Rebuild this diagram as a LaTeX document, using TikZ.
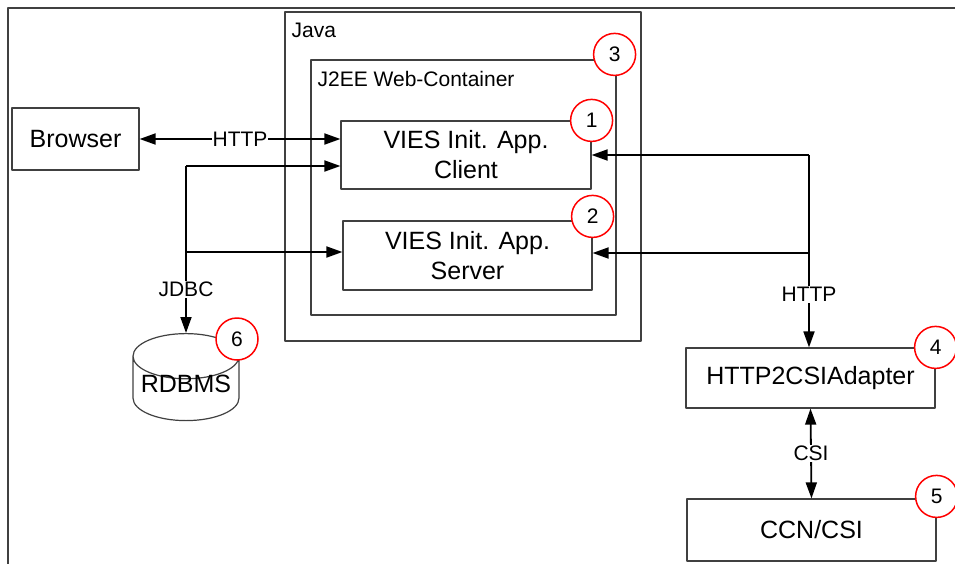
\documentclass[tikz,border=0pt]{standalone}
\usepackage{fontspec}
\setmainfont{Liberation Sans}
\usetikzlibrary{arrows.meta,shapes.geometric}
\begin{document}
\begin{tikzpicture}[x=1pt,y=-1pt,line join=round,>={Triangle[length=16pt,width=11pt]},
	box/.style={draw=black!75,line width=1.2pt,inner sep=0pt,align=center,font=\fontsize{25}{30}\selectfont},
	frame/.style={draw=black!75,line width=1.2pt,inner sep=0pt},
	num/.style={circle,draw=red,line width=1.5pt,fill=white,minimum size=42pt,inner sep=0pt,font=\fontsize{21}{25}\selectfont},
	lbl/.style={fill=white,inner sep=1pt,font=\fontsize{21}{25}\selectfont},
	conn/.style={line width=1.8pt}]
	\useasboundingbox (0,0) rectangle (955,563);
	\draw[black!75,line width=1.2pt] (8,570)|-(960,8);
	\node[frame,minimum width=356pt,minimum height=329pt] (java) at (463,176.5) {};
	\node[anchor=north west,inner sep=0pt,xshift=7pt,yshift=-11pt,font=\fontsize{21}{25}\selectfont] (javalbl) at (java.north west) {Java};
	\node[frame,minimum width=305pt,minimum height=255pt] (j2ee) at (463.5,187.5) {};
	\node[anchor=north west,inner sep=0pt,xshift=7pt,yshift=-12pt,font=\fontsize{21}{25}\selectfont] (j2eelbl) at (j2ee.north west) {J2EE Web-Container};
	\node[box,minimum width=127pt,minimum height=62pt] (browser) at (75.5,139) {Browser};
	\node[box,minimum width=250pt,minimum height=68pt] (client) at (466,155) {VIES Init. App.\\Client};
	\node[box,minimum width=249pt,minimum height=69pt] (server) at (467.5,255.5) {VIES Init. App.\\Server};
	\node[box,minimum width=249pt,minimum height=60pt] (adapter) at (810.5,378) {HTTP2CSIAdapter};
	\node[box,minimum width=249pt,minimum height=62pt] (ccn) at (811.5,530) {CCN/CSI};
	\node[box,cylinder,shape border rotate=90,aspect=0.5,minimum width=106pt,minimum height=87pt,anchor=north] (rdbms) at (186,333) {\phantom{RDBMS}};
	\node[font=\fontsize{25}{30}\selectfont,inner sep=0pt] (rdbmslbl) at (186,384) {RDBMS};
	\node[num] (n3) at ([xshift=-2pt,yshift=5pt]j2ee.north east) {3};
	\node[num] (n1) at (client.north east) {1};
	\node[num] (n2) at ([yshift=4pt]server.north east) {2};
	\node[num] (n4) at (adapter.north east) {4};
	\node[num] (n5) at ([yshift=2pt]ccn.north east) {5};
	\node[num] (n6) at ([xshift=51pt,yshift=-6pt]rdbms.north) {6};
	\coordinate (jc) at (186,166);\coordinate (js) at (186,252);
	\coordinate (hc) at (809,155);\coordinate (hs) at (809,253);
	\draw[conn,<->] (browser.east)--(browser.east-|client.west) node[midway,lbl]{HTTP};
	\draw[conn,->] (jc)--(jc-|client.west);
	\draw[conn,->] (js)--(js-|server.west);
	\draw[conn,->] (jc)--(rdbms.north) node[pos=0.74,lbl]{JDBC};
	\draw[conn,->] (hc)--(hc-|client.east);
	\draw[conn,->] (hs)--(hs-|server.east);
	\draw[conn,->] (hc)--(hc|-adapter.north) node[pos=0.725,lbl]{HTTP};
	\draw[conn,<->] (adapter.south)--(ccn.north) node[midway,lbl]{CSI};
\end{tikzpicture}
\end{document}
